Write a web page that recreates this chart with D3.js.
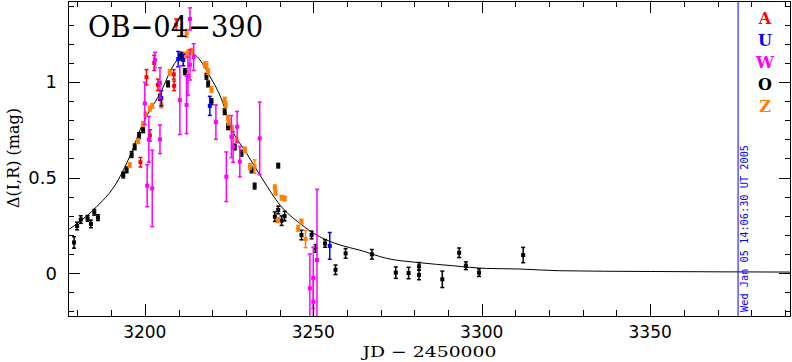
<!DOCTYPE html>
<html>
<head>
<meta charset="utf-8">
<script src="https://cdn.jsdelivr.net/npm/d3@7"></script>
<style>
  html, body { margin: 0; padding: 0; background: #fff; }
  svg { display: block; }
</style>
</head>
<body>
<script>
// series: [JD-2450000, delta mag, error]
const seriesO = [
  [3179.0,0.160,0.030],[3179.9,0.246,0.020],[3181.0,0.280,0.020],[3183.0,0.286,0.015],
  [3184.0,0.257,0.020],[3185.0,0.318,0.015],[3186.1,0.290,0.015],[3193.6,0.513,0.015],
  [3194.6,0.540,0.015],[3196.1,0.620,0.015],[3197.0,0.660,0.015],[3198.3,0.720,0.015],
  [3199.5,0.750,0.015],[3204.5,0.920,0.015],[3206.9,0.990,0.015],[3210.4,1.130,0.015],
  [3210.9,1.140,0.015],[3211.9,1.054,0.015],[3218.3,1.030,0.015],[3218.8,0.990,0.015],
  [3219.8,0.897,0.015],[3223.7,0.845,0.015],[3224.7,0.766,0.015],[3226.7,0.660,0.015],
  [3228.7,0.627,0.015],[3231.7,0.540,0.015],[3232.6,0.455,0.015],[3239.6,0.562,0.012],
  [3238.6,0.295,0.025],[3239.6,0.330,0.020],[3240.6,0.274,0.025],[3241.5,0.298,0.025],
  [3246.5,0.199,0.025],[3249.5,0.199,0.020],[3250.7,0.129,0.020],[3253.5,0.155,0.020],
  [3256.6,0.017,0.025],[3259.6,0.103,0.025],[3267.4,0.098,0.025],[3274.5,0.002,0.030],
  [3278.3,0.000,0.030],[3281.4,0.035,0.020],[3281.4,-0.010,0.025],[3288.3,-0.033,0.043],
  [3293.3,0.106,0.025],[3295.3,0.038,0.020],[3299.2,0.002,0.020],[3312.3,0.094,0.040]
];
const seriesZ = [
  [3195.5,0.565,0.012],[3198.0,0.690,0.012],[3199.5,0.780,0.012],[3200.2,0.830,0.012],
  [3201.5,0.860,0.012],[3202.2,0.875,0.012],[3204.9,0.880,0.015],[3207.4,1.050,0.015],
  [3211.9,1.140,0.015],[3212.8,1.150,0.015],[3212.4,1.255,0.020],[3213.9,1.160,0.015],
  [3217.8,1.090,0.015],[3218.3,1.090,0.015],[3218.8,1.054,0.015],[3219.8,0.960,0.015],
  [3223.7,0.905,0.015],[3224.0,0.880,0.015],[3224.7,0.810,0.015],[3224.9,0.790,0.015],
  [3225.9,0.757,0.015],[3227.2,0.696,0.015],[3229.7,0.644,0.015],[3231.2,0.557,0.015],
  [3232.6,0.557,0.035],[3238.6,0.449,0.012],[3238.8,0.420,0.012],[3240.6,0.394,0.012],
  [3241.5,0.390,0.012],[3239.6,0.277,0.012],[3245.5,0.234,0.015],[3246.5,0.269,0.012],
  [3247.7,0.178,0.045]
];
const seriesA = [
  [3198.7,0.580,0.025],[3200.5,1.025,0.040],[3201.5,0.720,0.030],[3202.8,1.100,0.040],
  [3203.9,0.985,0.030],[3208.6,1.040,0.025],[3208.7,0.980,0.025],[3209.3,1.300,0.030]
];
const seriesU = [
  [3204.9,0.915,0.040],[3209.9,1.120,0.040],[3211.4,1.115,0.030],[3219.3,0.875,0.050],
  [3254.9,0.142,0.070]
];
const seriesW = [
  [3200.7,0.457,0.110],[3202.2,0.443,0.200],[3200.0,0.888,0.110],[3201.2,0.700,0.120],
  [3203.0,1.115,0.040],[3204.5,0.995,0.080],[3204.5,0.700,0.075],[3210.4,0.905,0.180],
  [3212.4,0.880,0.150],[3212.8,1.030,0.100],[3213.4,1.090,0.080],[3213.4,1.330,0.058],
  [3214.5,1.130,0.070],[3221.1,0.790,0.090],[3224.2,0.504,0.130],[3225.7,0.714,0.110],
  [3226.2,0.660,0.080],[3227.4,0.766,0.080],[3228.2,0.583,0.080],[3234.1,0.705,0.190],
  [3249.0,-0.080,0.180],[3250.0,-0.025,0.160],[3250.0,-0.150,0.120],[3251.1,0.068,0.370]
];
// model light curve
const model = [
  [3177.2,0.225],[3184.7,0.330],[3192.1,0.487],[3196.0,0.630],[3199.0,0.766],
  [3204.5,0.940],[3209.4,1.110],[3213.4,1.150],[3215.0,1.140],[3219.3,1.030],
  [3223.2,0.890],[3225.2,0.780],[3230.2,0.627],[3235.1,0.487],[3240.1,0.356],
  [3246.0,0.260],[3251.9,0.190],[3257.9,0.147],[3263.8,0.120],[3271.7,0.077],
  [3281.6,0.054],[3291.5,0.038],[3301.4,0.024],[3311.3,0.021],[3323.0,0.012],
  [3350.0,0.008],[3392.0,0.005]
];
const legendNames = ["A", "U", "W", "O", "Z"];
const legendColors = ["#ff0000", "#0000ff", "#ff00ff", "#000000", "#ff8000"];
const xTicks = [3200, 3250, 3300, 3350];
const yTicks = [0, 0.5, 1];
const yTickLabels = ["0", "0.5", "1"];
const nowJD = 3376.09;
const nowLabel = "Wed Jan 05 14:06:30 UT 2005";
const title = "OB\u221204\u2212390";

const W = 792, H = 362;
const L = 68, R = 791, T = 1, B = 316;

const svg = d3.select("body").append("svg")
  .attr("width", W).attr("height", H);
svg.append("rect").attr("width", W).attr("height", H).attr("fill", "#fff");

const x = d3.scaleLinear().domain([3177.2, 3391.8]).range([L, R]);
const y = d3.scaleLinear().domain([-0.225, 1.424]).range([B, T]);

svg.append("clipPath").attr("id", "clip")
  .append("rect").attr("x", L).attr("y", T).attr("width", R - L).attr("height", B - T);

const plot = svg.append("g").attr("clip-path", "url(#clip)");

// model curve
plot.append("path")
  .datum(model)
  .attr("fill", "none")
  .attr("stroke", "#000")
  .attr("stroke-width", 1)
  .attr("d", d3.line().x(d => x(d[0])).y(d => y(d[1])).curve(d3.curveMonotoneX));

// data with error bars
const sets = [
  [seriesO, "#000000"], [seriesZ, "#ff8000"], [seriesA, "#ff0000"],
  [seriesU, "#0000ff"], [seriesW, "#ff00ff"]
];
sets.forEach(([data, col]) => {
  const g = plot.append("g").attr("stroke", col).attr("fill", col);
  const pts = g.selectAll("g").data(data).enter().append("g");
  pts.append("line")
    .attr("x1", d => x(d[0])).attr("x2", d => x(d[0]))
    .attr("y1", d => y(d[1] - d[2])).attr("y2", d => y(d[1] + d[2]))
    .attr("stroke-width", 1.5);
  [-1, 1].forEach(s => {
    pts.append("line")
      .attr("x1", d => x(d[0]) - 2).attr("x2", d => x(d[0]) + 2)
      .attr("y1", d => y(d[1] + s * d[2])).attr("y2", d => y(d[1] + s * d[2]))
      .attr("stroke-width", 1.5);
  });
  pts.append("rect")
    .attr("x", d => x(d[0]) - 2).attr("y", d => y(d[1]) - 2)
    .attr("width", 4).attr("height", 4).attr("stroke", "none");
});

// time marker
svg.append("line")
  .attr("x1", x(nowJD)).attr("x2", x(nowJD))
  .attr("y1", T).attr("y2", B)
  .attr("stroke", "#0000ff").attr("stroke-width", 1);
svg.append("text")
  .attr("transform", `translate(${x(nowJD) + 10},${228.5}) rotate(-90)`)
  .attr("text-anchor", "middle")
  .attr("font-family", "DejaVu Sans Mono")
  .attr("font-size", 10)
  .attr("textLength", 167)
  .attr("lengthAdjust", "spacingAndGlyphs")
  .attr("fill", "#0000ff")
  .text(nowLabel);

// frame and ticks
const axes = svg.append("g").attr("stroke", "#000").attr("stroke-width", 1);
const xMinor = d3.range(3180, 3391, 10).filter(v => !xTicks.includes(v));
const yMinor = d3.range(-2, 15).map(v => v / 10).filter(v => !yTicks.includes(v));

function xt(vals, len) {
  vals.forEach(v => {
    const px = Math.round(x(v)) + 0.5;
    axes.append("line").attr("x1", px).attr("x2", px).attr("y1", B).attr("y2", B - len);
    axes.append("line").attr("x1", px).attr("x2", px).attr("y1", T).attr("y2", T + len);
  });
}
function yt(vals, len) {
  vals.forEach(v => {
    const py = Math.round(y(v)) + 0.5;
    axes.append("line").attr("y1", py).attr("y2", py).attr("x1", L).attr("x2", L + len);
    axes.append("line").attr("y1", py).attr("y2", py).attr("x1", R).attr("x2", R - len);
  });
}
xt(xTicks, 12); xt(xMinor, 6);
yt(yTicks, 12); yt(yMinor, 6);

axes.append("rect")
  .attr("x", L + 0.5).attr("y", T + 0.5)
  .attr("width", R - L - 1).attr("height", B - T)
  .attr("fill", "none");

// tick labels
svg.append("g").selectAll("text").data(xTicks).enter().append("text")
  .attr("x", d => x(d)).attr("y", 338)
  .attr("text-anchor", "middle")
  .attr("font-family", "DejaVu Sans").attr("font-size", 17)
  .text(d => d);
svg.append("g").selectAll("text").data(yTicks).enter().append("text")
  .attr("x", 57).attr("y", d => y(d) + 6.5)
  .attr("text-anchor", "end")
  .attr("font-family", "DejaVu Sans").attr("font-size", 18)
  .text((d, i) => yTickLabels[i]);

// axis titles
svg.append("text")
  .attr("x", (L + R) / 2).attr("y", 357)
  .attr("text-anchor", "middle")
  .attr("font-family", "DejaVu Serif").attr("font-size", 15)
  .attr("textLength", 134).attr("lengthAdjust", "spacingAndGlyphs")
  .text("JD \u2212 2450000");
svg.append("text")
  .attr("transform", "translate(19,158) rotate(-90)")
  .attr("text-anchor", "middle")
  .attr("font-family", "DejaVu Serif").attr("font-size", 16)
  .text("\u0394(I,R) (mag)");

// title
svg.append("text")
  .attr("x", 88).attr("y", 37)
  .attr("font-family", "DejaVu Serif").attr("font-size", 30)
  .attr("textLength", 175).attr("lengthAdjust", "spacingAndGlyphs")
  .text(title);

// legend
svg.append("g").selectAll("text").data(legendNames).enter().append("text")
  .attr("x", 765).attr("y", (d, i) => 24 + i * 22)
  .attr("text-anchor", "middle")
  .attr("font-family", "DejaVu Serif").attr("font-weight", "bold").attr("font-size", 16)
  .attr("fill", (d, i) => legendColors[i])
  .text(d => d);
</script>
</body>
</html>
